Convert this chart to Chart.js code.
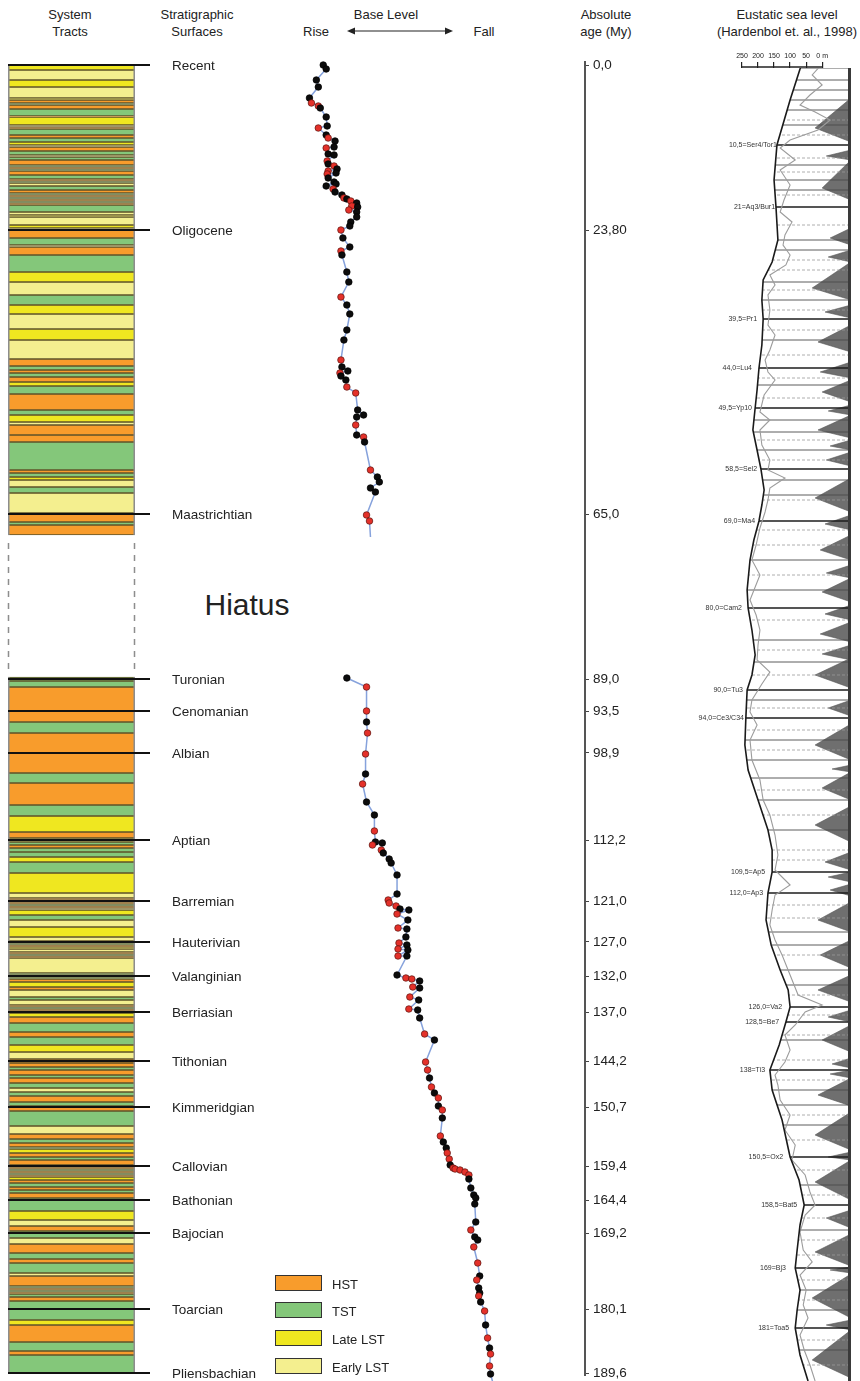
<!DOCTYPE html>
<html>
<head>
<meta charset="utf-8">
<script src="https://cdn.jsdelivr.net/npm/chart.js@4.4.0/dist/chart.umd.min.js"></script>
<style>
  body { margin: 0; background: #fff; }
  #page { position: relative; width: 860px; height: 1381px; overflow: hidden;
          font-family: 'Liberation Sans', Arial, sans-serif; color: #222; }
  #page canvas { position: absolute; top: 0; }
  .t { position: absolute; transform: translate(-50%, -50%); white-space: nowrap; font-size: 13px; }
  .key { position: absolute; left: 275px; width: 45px; height: 14px; border: 1.5px solid #333; }
  .keyLabel { position: absolute; left: 332px; font-size: 13px; transform: translateY(-50%); }
</style>
</head>
<body>
<div id="page">
  <div class="t" style="left:70px;top:14px">System</div>
  <div class="t" style="left:70px;top:31px">Tracts</div>
  <div class="t" style="left:197px;top:14px">Stratigraphic</div>
  <div class="t" style="left:197px;top:31px">Surfaces</div>
  <div class="t" style="left:386px;top:14px">Base Level</div>
  <div class="t" style="left:316px;top:31px">Rise</div>
  <div class="t" style="left:484px;top:31px">Fall</div>
  <svg style="position:absolute;left:346px;top:25px" width="108" height="12">
    <line x1="4" y1="6" x2="104" y2="6" stroke="#222" stroke-width="1.2"/>
    <path d="M1 6 L9 2.5 L9 9.5 Z" fill="#222"/>
    <path d="M107 6 L99 2.5 L99 9.5 Z" fill="#222"/>
  </svg>
  <div class="t" style="left:606px;top:14px">Absolute</div>
  <div class="t" style="left:606px;top:31px">age (My)</div>
  <div class="t" style="left:787px;top:14px">Eustatic sea level</div>
  <div class="t" style="left:787px;top:31px">(Hardenbol et. al., 1998)</div>
  <div class="t" style="left:247px;top:605px;font-size:30px">Hiatus</div>

  <canvas id="tracts" width="300" height="1381" style="left:0"></canvas>
  <canvas id="base" width="370" height="1381" style="left:290px"></canvas>
  <canvas id="sea" width="170" height="1381" style="left:690px"></canvas>
  <div id="legend"></div>
</div>

<script>
// vertical unit: position in the log (m) below the top of the section (Recent)

// system tracts: interval boundaries + one code per interval (x = hiatus)
const tractBounds = [3,8,18,25,36,38,41,43,47,54,55,63,65,67,73,76,80,83,85,89,93,95,98,103,105,107,109,113,117,119,
  121,124,128,131,133,135,137,139,141,143,150,153,155,163,166,168,176,183,185,193,210,220,233,243,252,267,278,297,304,308,
  311,315,320,324,332,348,353,360,363,373,380,408,411,415,418,425,431,451,460,463,473,
  615,619,625,660,671,711,721,743,754,770,776,780,783,786,790,795,800,811,831,836,
  838,840,842,844,846,848,853,858,865,875,879,881,883,885,887,890,892,894,896,911,
  913,915,917,920,925,928,935,938,943,945,947,949,951,955,961,970,975,983,990,997,
  1001,1005,1008,1013,1016,1021,1026,1030,1034,1040,1044,1049,1064,1072,1077,1081,1085,1087,1091,1095,
  1098,1103,1105,1107,1109,1111,1113,1115,1118,1121,1125,1128,1131,1136,1149,1158,1164,1169,1176,1182,
  1191,1197,1201,1211,1214,1224,1226,1228,1230,1232,1235,1239,1258,1263,1280,1289,1293,1311];
const tractCodes = ('LELELHTHTH LEHTHTLEHT ETHTHTHTHT ETHTHTHTHT ELELEHTEHT LETLELEHTH THLTHTLEHH THTLETEHTH ' +
  'x ' +
  'TTHTHTHTLH ETHTTLTLEH THTHELTELE HTHLEHTHET HTHLHETEHT HTLHTHTLEH HTHTHTETHT HTEHTHTLHT HTHTHTHLHT HTHTLEHTEH THTEHTHTHT HTLHTHT')
  .replace(/ /g, '');
const tractColors = { H: '#f89c2c', T: '#84c77a', L: '#efe720', E: '#f4ef8f' };
const tractNames = { H: 'HST', T: 'TST', L: 'Late LST', E: 'Early LST' };
const hiatusGap = [481, 611];

// stratigraphic surfaces and their absolute ages
const surfaceNames = ['Recent','Oligocene','Maastrichtian','Turonian','Cenomanian','Albian','Aptian','Barremian',
  'Hauterivian','Valanginian','Berriasian','Tithonian','Kimmeridgian','Callovian','Bathonian','Bajocian','Toarcian','Pliensbachian'];
const surfaceDepth = [3,168,452,617,649,691,778,839,880,914,950,999,1045,1104,1138,1171,1247,1311];
const ageLabels = ['0,0','23,80','65,0','89,0','93,5','98,9','112,2','121,0','127,0','132,0','137,0','144,2',
  '150,7','159,4','164,4','169,2','180,1','189,6'];

// base level curve (rise = low values, fall = high values); b black, r red, n no marker
const baseUpperX = [29,32,22,24,15,17,24,26,32,33,24,32,34,41,40,32,34,40,33,34,40,43,34,33,42,34,40,32,42,39,
  41,48,50,53,57,63,58,64,55,63,63,57,56,47,49,56,47,48,53,55,47,53,56,53,50,47,48,54,46,47,
  52,53,62,64,70,63,62,63,70,71,77,84,86,77,82,73,76,77];
const baseUpperY = [3,7,18,25,36,41,44,46,55,64,66,73,76,79,85,86,92,93,99,102,104,107,109,112,111,116,120,124,122,127,
  130,133,136,137,139,141,144,145,148,150,155,160,164,168,176,185,189,193,210,220,235,243,252,268,278,298,305,309,311,314,
  318,325,331,348,353,355,363,373,375,380,408,415,420,426,430,453,459,475];
const baseUpperKind = 'bbbbbrrbbbrbrbbrbbrbrbrrbbbbbrbbrbrbrbrbbbbrbbrbbbrbbbbrbbrbbrrbbbrbrbrbbbbrrn';
const baseLowerX = [53,73,73,73,74,72,72,69,73,81,81,82,79,89,88,90,96,98,104,104,95,96,103,107,116,104,115,105,114,113,
  106,114,105,115,105,114,104,113,119,127,120,127,117,126,116,125,127,132,142,133,135,137,139,142,146,146,150,150,148,151,
  154,155,157,158,161,163,168,173,177,177,179,182,184,183,184,179,183,186,182,186,188,185,187,188,187,189,193,194,196,198,
  199,198,199,202];
const baseLowerY = [616,625,649,660,671,692,712,722,740,753,769,780,783,781,788,791,797,801,813,832,
  838,841,844,847,848,852,858,866,867,875,881,883,887,888,894,894,913,916,917,919,
  925,926,935,938,947,948,956,972,978,1000,1008,1016,1025,1031,1036,1044,1048,1056,1074,1080,
  1086,1091,1097,1103,1106,1107,1108,1110,1113,1117,1126,1133,1136,1142,1160,1168,1175,1178,1185,1201,
  1214,1218,1226,1231,1234,1240,1249,1263,1276,1286,1292,1304,1312,1323];
const baseLowerKind = 'brrbrrbrbbrbrbrbbbbbrrrbbrbrbbrbrbrbbrrbrbrbrbbrbrrbrbrbrbrbbrrbrrrrrbbbbbbrbbrrbrbbrbrbrbrrbn';

// eustatic sea level (m above present), Hardenbol et al. 1998
const seaTicks = [250, 200, 150, 100, 50, 0];
const longTermDepth = [4,38,83,118,145,178,200,218,238,257,283,306,328,346,368,388,407,428,443,459,
  478,498,528,546,568,593,613,628,656,683,708,738,768,788,810,831,858,883,908,928,
  945,960,983,1008,1028,1058,1095,1118,1143,1163,1188,1206,1228,1248,1266,1293,1319];
const longTermM = [66,100,141,150,144,138,156,184,188,184,188,197,203,209,216,203,191,181,188,197,
  213,225,234,231,219,209,219,234,238,241,231,200,169,156,156,169,175,159,131,106,
  100,113,134,163,156,125,100,72,56,69,78,84,69,78,84,69,44];
const shortTermDepth = [4,13,23,33,43,50,58,68,78,86,98,108,123,138,150,160,173,183,193,203,
  213,223,233,248,263,273,288,298,310,318,333,350,358,368,383,398,408,416,426,438,
  450,466,483,498,513,538,553,568,583,598,610,622,638,650,663,678,698,718,738,753,
  773,793,808,823,833,848,863,878,893,913,933,943,950,963,973,988,1000,1013,1023,1038,
  1053,1068,1083,1098,1113,1130,1143,1153,1170,1188,1200,1213,1228,1243,1256,1273,1288,1303,1319];
const shortTermM = [6,31,0,38,69,22,-25,13,100,131,84,131,100,119,131,94,116,122,100,113,
  163,147,169,163,169,147,163,178,169,147,181,194,163,194,188,163,169,116,163,169,
  178,194,206,219,194,225,206,194,200,203,163,188,219,225,203,225,219,194,184,163,
  147,138,147,100,147,156,163,147,125,100,75,0,53,84,116,100,116,147,138,131,
  100,116,84,94,53,38,22,53,69,59,31,69,50,59,44,69,56,38,22];
const eventLabels = ['10,5=Ser4/Tor1','21=Aq3/Bur1','39,5=Pr1','44,0=Lu4','49,5=Yp10','58,5=Sel2','69,0=Ma4','80,0=Cam2',
  '90,0=Tu3','94,0=Ce3/C34','109,5=Ap5','112,0=Ap3','126,0=Va2','128,5=Be7','138=Ti3','150,5=Ox2','158,5=Bat5','169=Bj3','181=Toa5'];
const eventDepth = [83,145,257,306,346,407,459,546,628,656,810,831,945,960,1008,1095,1143,1206,1266];
const eventM = [141,147,203,219,219,203,209,250,247,244,178,184,125,134,178,122,78,113,103];
const minorBoundaries = [6,18,28,38,48,63,103,118,128,178,188,220,238,278,323,358,370,388,418,433,498,528,578,600,638,
  678,698,716,738,768,870,883,908,923,978,1028,1043,1063,1123,1168,1228,1248,1288];
const floodingSurfaces = [58,73,96,110,133,163,198,208,228,248,268,293,316,336,378,398,438,468,483,513,558,588,613,646,
  668,688,728,753,788,798,843,856,893,933,953,973,998,1018,1053,1078,1108,1133,1156,1178,1193,1218,1238,1278,1303];
const triTop    = [36,88,98,166,188,200,243,263,300,318,343,353,378,390,416,453,473,503,516,543,560,583,596,638,662,
  703,710,744,790,810,822,840,878,913,948,963,996,1008,1016,1050,1090,1098,1148,1172,1205,1212,1258,1268];
const triApex   = [66,94,126,176,195,226,250,280,310,330,349,368,384,398,436,462,488,511,530,552,572,592,613,646,683,
  707,726,763,800,815,828,858,893,928,955,978,1002,1012,1033,1073,1095,1120,1156,1190,1208,1236,1263,1298];
const triBottom = [80,98,138,183,200,238,256,290,316,340,353,376,388,404,450,468,498,516,540,558,580,598,626,654,698,
  710,738,780,808,820,834,870,906,940,960,990,1006,1016,1044,1088,1098,1138,1166,1204,1211,1256,1268,1316];
const triReach  = [22,-13,0,-25,-19,31,-9,13,6,0,-19,13,-25,-13,22,-9,6,-13,0,-9,6,0,22,-19,22,
  -31,0,22,-9,-19,-25,13,6,13,-19,0,-31,-25,13,22,-19,22,-13,22,-25,31,-13,31];

const FONT = "'Liberation Sans', Arial, sans-serif";
const LOG_MAX = 1313;

// ---------- system tracts column + surfaces ----------
const tractSets = [];
for (let i = 0; i < tractCodes.length; i++) {
  const c = tractCodes[i];
  if (!tractColors[c]) continue;
  tractSets.push({
    data: [[tractBounds[i], tractBounds[i + 1]]],
    backgroundColor: tractColors[c],
    borderColor: '#5f532a',
    borderWidth: { top: 1, bottom: 1, left: 0, right: 0 },
    borderSkipped: false
  });
}
const hiatusIdx = tractCodes.indexOf('x');
[[tractBounds[0], tractBounds[hiatusIdx]], [tractBounds[hiatusIdx + 1], tractBounds[tractBounds.length - 1]]].forEach(r => {
  tractSets.push({
    data: [r], backgroundColor: 'rgba(0,0,0,0)', borderColor: '#8d8d8d',
    borderWidth: { top: 0, bottom: 0, left: 1.2, right: 1.2 }, borderSkipped: false, order: -1
  });
});

const surfacePlugin = {
  id: 'surfaces',
  afterDatasetsDraw(chart) {
    const { ctx, chartArea: a, scales: { y } } = chart;
    ctx.save();
    ctx.strokeStyle = '#8d8d8d';
    ctx.lineWidth = 1.5;
    ctx.setLineDash([6, 6]);
    const y0 = y.getPixelForValue(hiatusGap[0]), y1 = y.getPixelForValue(hiatusGap[1]);
    [a.left + 0.5, a.right - 0.5].forEach(x => {
      ctx.beginPath(); ctx.moveTo(x, y0); ctx.lineTo(x, y1); ctx.stroke();
    });
    ctx.setLineDash([]);
    ctx.strokeStyle = '#111';
    ctx.lineWidth = 2;
    ctx.fillStyle = '#222';
    ctx.font = '13.5px ' + FONT;
    ctx.textBaseline = 'middle';
    surfaceNames.forEach((name, i) => {
      const py = y.getPixelForValue(surfaceDepth[i]);
      ctx.beginPath(); ctx.moveTo(a.left, py); ctx.lineTo(a.right + 15, py); ctx.stroke();
      ctx.fillText(name, a.right + 37, py + 1);
    });
    ctx.restore();
  }
};

new Chart(document.getElementById('tracts'), {
  type: 'bar',
  data: { labels: ['System tracts'], datasets: tractSets },
  options: {
    responsive: false, animation: false, events: [],
    layout: { padding: { top: 62, bottom: 6, left: 8, right: 165 } },
    datasets: { bar: { grouped: false, barPercentage: 1, categoryPercentage: 1 } },
    plugins: { legend: { display: false }, tooltip: { enabled: false } },
    scales: {
      x: { display: false },
      y: { display: false, reverse: true, min: 0, max: LOG_MAX }
    }
  },
  plugins: [surfacePlugin]
});

// ---------- base level curve + absolute age axis ----------
function baseSet(xs, ys, kinds) {
  const k = kinds.split('');
  return {
    data: xs.map((x, i) => ({ x, y: ys[i] })),
    borderColor: '#86a2dc',
    borderWidth: 1.5,
    pointRadius: k.map(c => c === 'n' ? 0 : 3.3),
    pointBackgroundColor: k.map(c => c === 'r' ? '#e4312a' : '#0c0c0c'),
    pointBorderColor: k.map(c => c === 'r' ? '#5a140f' : '#000'),
    pointBorderWidth: 0.7,
    clip: false
  };
}

new Chart(document.getElementById('base'), {
  type: 'line',
  data: { datasets: [baseSet(baseUpperX, baseUpperY, baseUpperKind), baseSet(baseLowerX, baseLowerY, baseLowerKind)] },
  options: {
    responsive: false, animation: false, events: [],
    layout: { padding: { top: 62, bottom: 6, left: 0, right: 0 } },
    plugins: { legend: { display: false }, tooltip: { enabled: false } },
    scales: {
      x: { type: 'linear', min: 0, max: 295, display: false },
      y: {
        type: 'linear', position: 'right', reverse: true, min: 0, max: LOG_MAX,
        afterBuildTicks: s => { s.ticks = surfaceDepth.map(v => ({ value: v })); },
        afterFit: s => { s.width = 75; s.paddingTop = 0; s.paddingBottom = 0; },
        grid: { drawOnChartArea: false, tickLength: 4, color: '#444', lineWidth: 1 },
        border: { display: true, color: '#555', width: 2 },
        ticks: {
          autoSkip: false, padding: 4, color: '#222', font: { family: FONT, size: 13.5 },
          callback: (v, i) => ageLabels[i]
        }
      }
    }
  }
});

// ---------- eustatic sea level panel ----------
const seaSets = [];
triTop.forEach((t, i) => {
  seaSets.push({
    data: [{ x: -90, y: t }, { x: triReach[i], y: triApex[i] }, { x: -90, y: triBottom[i] }],
    fill: 'shape', backgroundColor: '#6f6f6f', borderColor: '#555', borderWidth: 0.6, order: 6
  });
});
function hLine(d, color, width, dash) {
  return { data: [{ x: 250, y: d }, { x: -90, y: d }], borderColor: color, borderWidth: width, borderDash: dash, order: 5 };
}
floodingSurfaces.forEach(d => seaSets.push(hLine(d, '#9a9a9a', 0.8, [3, 2])));
minorBoundaries.forEach(d => seaSets.push(hLine(d, '#4a4a4a', 0.9, [])));
eventDepth.forEach(d => seaSets.push(hLine(d, '#1c1c1c', 1.6, [])));
// white out everything on the land side of the long-term curve
seaSets.push({
  data: longTermDepth.map((d, i) => ({ x: longTermM[i], y: d })).concat([{ x: 320, y: 1340 }, { x: 320, y: -20 }]),
  fill: 'shape', backgroundColor: '#fff', borderWidth: 0, order: 4
});
seaSets.push({
  data: shortTermDepth.map((d, i) => ({ x: shortTermM[i], y: d })),
  borderColor: '#9c9c9c', borderWidth: 1.1, order: 2
});
seaSets.push({
  data: longTermDepth.map((d, i) => ({ x: longTermM[i], y: d })),
  borderColor: '#1a1a1a', borderWidth: 1.6, order: 1
});

const seaPlugin = {
  id: 'seaFrame',
  afterDatasetsDraw(chart) {
    const { ctx, chartArea: a, scales: { x, y } } = chart;
    ctx.save();
    ctx.strokeStyle = '#222';
    ctx.lineWidth = 1.4;
    ctx.beginPath();
    ctx.moveTo(x.getPixelForValue(seaTicks[0]) - 0.7, a.top - 1);
    ctx.lineTo(x.getPixelForValue(seaTicks[seaTicks.length - 1]) + 0.7, a.top - 1);
    ctx.stroke();
    ctx.strokeStyle = '#3a3a3a';
    ctx.lineWidth = 3;
    ctx.beginPath(); ctx.moveTo(a.right - 1.5, a.top); ctx.lineTo(a.right - 1.5, a.bottom); ctx.stroke();
    ctx.fillStyle = '#333';
    ctx.font = '7px ' + FONT;
    ctx.textAlign = 'right';
    ctx.textBaseline = 'middle';
    eventLabels.forEach((t, i) => ctx.fillText(t, x.getPixelForValue(eventM[i]), y.getPixelForValue(eventDepth[i])));
    ctx.restore();
  }
};

new Chart(document.getElementById('sea'), {
  type: 'line',
  data: { datasets: seaSets },
  options: {
    responsive: false, animation: false, events: [],
    layout: { padding: { top: 42, bottom: 0, left: 52, right: 9 } },
    elements: { point: { radius: 0 }, line: { tension: 0 } },
    plugins: { legend: { display: false }, tooltip: { enabled: false } },
    scales: {
      x: {
        type: 'linear', position: 'top', reverse: true, min: -90, max: 250,
        afterBuildTicks: s => { s.ticks = seaTicks.map(v => ({ value: v })); },
        afterFit: s => { s.height = 26; s.paddingLeft = 0; s.paddingRight = 0; },
        grid: { drawOnChartArea: false, tickLength: 6, color: '#222', lineWidth: 1.2 },
        border: { display: false },
        ticks: {
          autoSkip: false, maxRotation: 0, padding: 2, color: '#222', font: { family: FONT, size: 7 },
          callback: v => v === 0 ? '0 m' : String(v)
        }
      },
      y: { display: false, reverse: true, min: 6, max: 1319 }
    }
  },
  plugins: [seaPlugin]
});

// ---------- legend ----------
const legendTops = [1275, 1302, 1330, 1358];
const legend = document.getElementById('legend');
['H', 'T', 'L', 'E'].forEach((c, i) => {
  const box = document.createElement('div');
  box.className = 'key';
  box.style.top = legendTops[i] + 'px';
  box.style.background = tractColors[c];
  legend.appendChild(box);
  const lab = document.createElement('div');
  lab.className = 'keyLabel';
  lab.style.top = (legendTops[i] + 9) + 'px';
  lab.textContent = tractNames[c];
  legend.appendChild(lab);
});
</script>
</body>
</html>
